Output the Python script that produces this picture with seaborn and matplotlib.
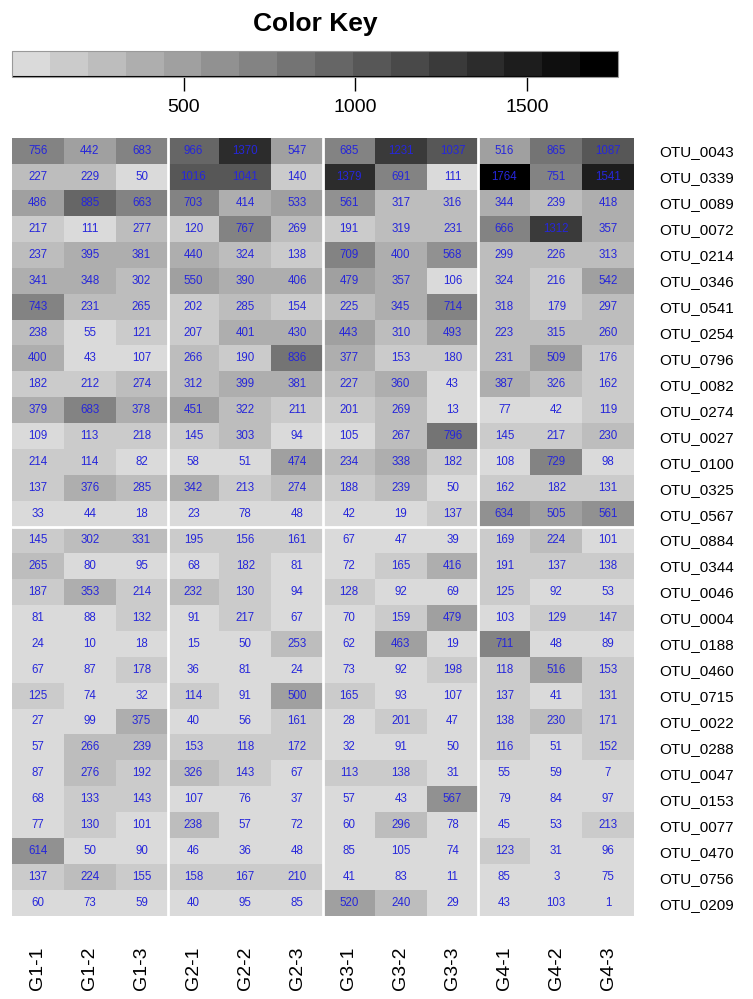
import numpy as np
import pandas as pd
import matplotlib
matplotlib.use("Agg")
import matplotlib.pyplot as plt
import seaborn as sns
from matplotlib.colors import ListedColormap, BoundaryNorm

sns.set_style("white")
plt.rcParams["font.family"] = ["Liberation Sans", "DejaVu Sans"]
plt.rcParams["text.color"] = "black"
plt.rcParams["xtick.color"] = "black"
plt.rcParams["ytick.color"] = "black"
plt.rcParams["xtick.labelcolor"] = "black"
plt.rcParams["ytick.labelcolor"] = "black"

samples = ["G1-1", "G1-2", "G1-3", "G2-1", "G2-2", "G2-3",
           "G3-1", "G3-2", "G3-3", "G4-1", "G4-2", "G4-3"]

otus = ["OTU_0043", "OTU_0339", "OTU_0089", "OTU_0072", "OTU_0214", "OTU_0346",
        "OTU_0541", "OTU_0254", "OTU_0796", "OTU_0082", "OTU_0274", "OTU_0027",
        "OTU_0100", "OTU_0325", "OTU_0567", "OTU_0884", "OTU_0344", "OTU_0046",
        "OTU_0004", "OTU_0188", "OTU_0460", "OTU_0715", "OTU_0022", "OTU_0288",
        "OTU_0047", "OTU_0153", "OTU_0077", "OTU_0470", "OTU_0756", "OTU_0209"]

g1_1 = [756, 227, 486, 217, 237, 341, 743, 238, 400, 182, 379, 109, 214, 137, 33,
        145, 265, 187, 81, 24, 67, 125, 27, 57, 87, 68, 77, 614, 137, 60]
g1_2 = [442, 229, 885, 111, 395, 348, 231, 55, 43, 212, 683, 113, 114, 376, 44,
        302, 80, 353, 88, 10, 87, 74, 99, 266, 276, 133, 130, 50, 224, 73]
g1_3 = [683, 50, 663, 277, 381, 302, 265, 121, 107, 274, 378, 218, 82, 285, 18,
        331, 95, 214, 132, 18, 178, 32, 375, 239, 192, 143, 101, 90, 155, 59]
g2_1 = [966, 1016, 703, 120, 440, 550, 202, 207, 266, 312, 451, 145, 58, 342, 23,
        195, 68, 232, 91, 15, 36, 114, 40, 153, 326, 107, 238, 46, 158, 40]
g2_2 = [1370, 1041, 414, 767, 324, 390, 285, 401, 190, 399, 322, 303, 51, 213, 78,
        156, 182, 130, 217, 50, 81, 91, 56, 118, 143, 76, 57, 36, 167, 95]
g2_3 = [547, 140, 533, 269, 138, 406, 154, 430, 836, 381, 211, 94, 474, 274, 48,
        161, 81, 94, 67, 253, 24, 500, 161, 172, 67, 37, 72, 48, 210, 85]
g3_1 = [685, 1379, 561, 191, 709, 479, 225, 443, 377, 227, 201, 105, 234, 188, 42,
        67, 72, 128, 70, 62, 73, 165, 28, 32, 113, 57, 60, 85, 41, 520]
g3_2 = [1231, 691, 317, 319, 400, 357, 345, 310, 153, 360, 269, 267, 338, 239, 19,
        47, 165, 92, 159, 463, 92, 93, 201, 91, 138, 43, 296, 105, 83, 240]
g3_3 = [1037, 111, 316, 231, 568, 106, 714, 493, 180, 43, 13, 796, 182, 50, 137,
        39, 416, 69, 479, 19, 198, 107, 47, 50, 31, 567, 78, 74, 11, 29]
g4_1 = [516, 1764, 344, 666, 299, 324, 318, 223, 231, 387, 77, 145, 108, 162, 634,
        169, 191, 125, 103, 711, 118, 137, 138, 116, 55, 79, 45, 123, 85, 43]
g4_2 = [865, 751, 239, 1312, 226, 216, 179, 315, 509, 326, 42, 217, 729, 182, 505,
        224, 137, 92, 129, 48, 516, 41, 230, 51, 59, 84, 53, 31, 3, 103]
g4_3 = [1087, 1541, 418, 357, 313, 542, 297, 260, 176, 162, 119, 230, 98, 131, 561,
        101, 138, 53, 147, 89, 153, 131, 171, 152, 7, 97, 213, 96, 75, 1]

key_ticks = [500, 1000, 1500]

df = pd.DataFrame({s: v for s, v in zip(samples,
                   [g1_1, g1_2, g1_3, g2_1, g2_2, g2_3,
                    g3_1, g3_2, g3_3, g4_1, g4_2, g4_3])}, index=otus)

vals = df.values
nbins = 16
breaks = np.linspace(vals.min(), vals.max(), nbins + 1)
shades = np.linspace(0xDA, 0x00, nbins) / 255.0
cmap = ListedColormap([(g, g, g) for g in shades])
norm = BoundaryNorm(breaks, nbins)

W, H = 753, 999
fig = plt.figure(figsize=(W / 100, H / 100), dpi=100)
fig.patch.set_facecolor("white")

hx0, hx1, hy0, hy1 = 12, 634, 138, 916
ax = fig.add_axes([hx0 / W, 1 - hy1 / H, (hx1 - hx0) / W, (hy1 - hy0) / H])
kx0, kx1, ky0, ky1 = 12, 618, 51, 77
cax = fig.add_axes([kx0 / W, 1 - ky1 / H, (kx1 - kx0) / W, (ky1 - ky0) / H])

sns.heatmap(df, ax=ax, cmap=cmap, norm=norm, annot=True, fmt="d",
            annot_kws={"color": "#2626DA", "fontsize": 8.3},
            cbar_ax=cax, cbar_kws={"orientation": "horizontal", "ticks": key_ticks})

for x in (3, 6, 9):
    ax.axvline(x, color="white", lw=2)
ax.axhline(15, color="white", lw=2)

ax.set_xticklabels(samples, rotation=90, fontsize=14, color="black")
ax.tick_params(axis="x", length=0, pad=22)
ax.yaxis.tick_right()
ax.set_yticklabels(otus, rotation=0, fontsize=11, color="black")
ax.tick_params(axis="y", length=0, pad=18)
ax.set_xlabel("")
ax.set_ylabel("")

cb = ax.collections[0].colorbar
cb.outline.set_linewidth(0.8)
cb.outline.set_edgecolor("#999999")
cax.minorticks_off()
cax.xaxis.set_ticks(key_ticks, minor=False)
cax.xaxis.set_minor_locator(matplotlib.ticker.NullLocator())
cax.tick_params(axis="x", which="major", length=10, width=1, labelsize=14,
                pad=6, direction="out", color="black", labelcolor="black")
cax.set_xticklabels([str(t) for t in key_ticks], color="black")
cax.axhline(cax.get_ylim()[0], color="black", lw=1.5)

fig.text(315 / W, 1 - 24 / H, "Color Key", ha="center", va="center",
         fontsize=19, fontweight="bold", color="black")

fig.savefig("out.png", dpi=100, facecolor="white")
